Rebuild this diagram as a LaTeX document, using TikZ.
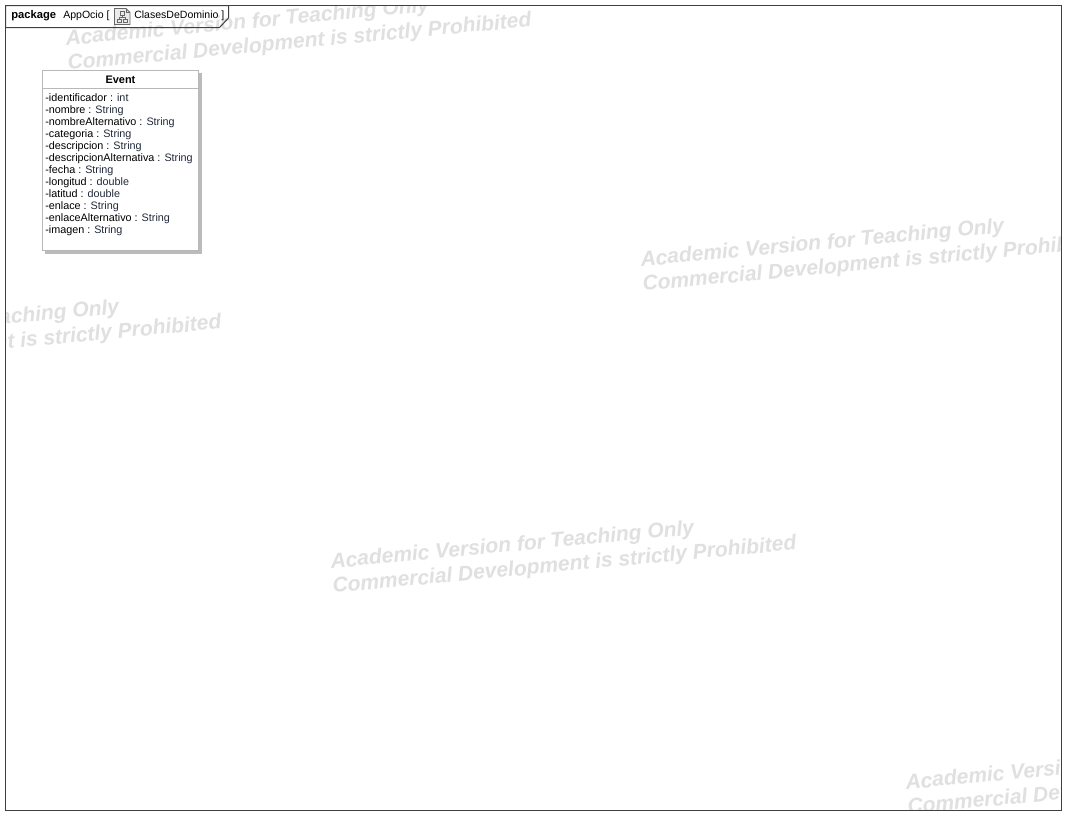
\documentclass[tikz,border=0pt]{standalone}
\usepackage{fontspec}
\setmainfont{Liberation Sans}
\definecolor{wm}{HTML}{E0E0E0}
\definecolor{frameline}{HTML}{404040}
\definecolor{iconline}{HTML}{686868}
\definecolor{boxline}{HTML}{B8B8B8}
\definecolor{boxshadow}{HTML}{BBBBBB}
\definecolor{typeblue}{HTML}{222A3A}
\newcommand{\wmark}[2]{%
  \node[wmtext,anchor=base west] at (#1,#2+1.5) {Academic Version for Teaching Only};
  \node[wmtext,anchor=base west] at (#1+2,#2+26) {Commercial Development is strictly Prohibited};}
\newcommand{\attrib}[3]{%
  \node[attr] (#1) at (45,#2) {-#1 : \textcolor{typeblue}{#3}};}
\tikzset{
  x=0.75pt,y=-0.75pt,
  wmtext/.style={inner sep=0pt,text=wm,rotate=5.35,font=\fontsize{15.75}{15.75}\selectfont\bfseries\itshape},
  attr/.style={inner sep=0pt,anchor=base west,text=black,font=\fontsize{8.1}{9}\selectfont},
  head/.style={inner sep=0pt,anchor=base west,text=black,font=\fontsize{7.9}{9}\selectfont},
}
\begin{document}
\begin{tikzpicture}
\useasboundingbox (0,0) rectangle (1086,835);
\fill[white] (0,0) rectangle (1086,835);
% watermarks
\begin{scope}
\clip (6,6) rectangle (1061,810);
\wmark{66}{44}
\wmark{641}{265}
\wmark{331}{567}
\wmark{906}{788}
\wmark{-244}{346}
\end{scope}
% frame
\draw[frameline,line width=0.75pt] (5.5,5.5) rectangle (1061.5,810.5);
\draw[frameline,line width=0.75pt]
  (5.5,5.5) -- (228.5,5.5) -- (228.5,18) -- (219.5,27.5) -- (5.5,27.5) -- cycle;
\node[head,font=\fontsize{8.4}{9}\selectfont\bfseries] (kw) at (11,18) {package};
\node[head] (pkg) at (63,18) {AppOcio [};
\node[head] (dn) at (134,18) {ClasesDeDominio ]};
% icon
\filldraw[draw=iconline,fill=white!92!black,line width=0.6pt]
  (114.5,8.5) -- (126,8.5) -- (130,12.5) -- (130,24.5) -- (114.5,24.5) -- cycle;
\draw[iconline,line width=0.6pt] (126,8.5) -- (126,12.5) -- (130,12.5);
\draw[iconline,line width=0.6pt] (120,11.5) rectangle (124,15) (117,19) rectangle (121,22.5) (123,19) rectangle (127,22.5)
  (122,15) -- (122,17) (119,19) -- (119,17) -- (125,17) -- (125,19);
% class
\fill[boxshadow] (45,73) rectangle (201.5,253.5);
\node[draw=boxline,fill=white,line width=0.75pt,outer sep=0pt,minimum width=117pt,minimum height=135pt,inner sep=0pt,anchor=north west] (event) at (42.5,70.5) {};
\draw[boxline,line width=0.75pt] (42.5,88.5) -- (198.5,88.5);
\node[head,anchor=base,font=\fontsize{8.2}{9}\selectfont\bfseries] (title) at (120.5,83) {Event};
\attrib{identificador}{101}{int}
\attrib{nombre}{113}{String}
\attrib{nombreAlternativo}{125}{String}
\attrib{categoria}{137}{String}
\attrib{descripcion}{149}{String}
\attrib{descripcionAlternativa}{161}{String}
\attrib{fecha}{173}{String}
\attrib{longitud}{185}{double}
\attrib{latitud}{197}{double}
\attrib{enlace}{209}{String}
\attrib{enlaceAlternativo}{221}{String}
\attrib{imagen}{233}{String}
\end{tikzpicture}
\end{document}
